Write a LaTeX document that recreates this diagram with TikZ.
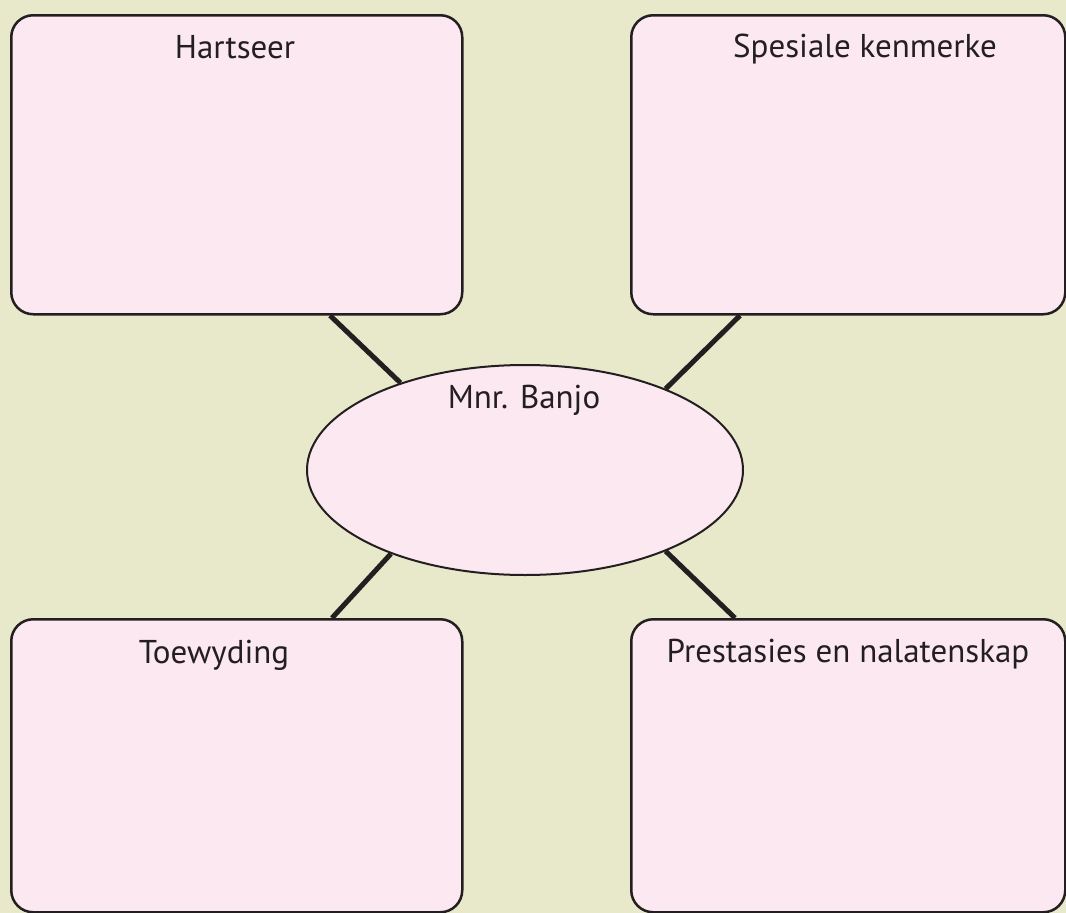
\documentclass[tikz,border=0pt]{standalone}
\usepackage{fontspec}
\setmainfont{PT Sans}
\usepackage{tikz}
\usepackage{xcolor}
\usetikzlibrary{
  positioning, calc, shapes.geometric, backgrounds,
}
\definecolor{cPaper}   {HTML}{E7E9CA}
\definecolor{cPink}    {HTML}{FCE8F1}
\definecolor{cInk}     {HTML}{231F20}

\tikzset{
  topicbox/.style={draw=cInk, fill=cPink, line width=2.5pt, rounded corners=22pt,
    rectangle, inner sep=0pt},
  hubnode/.style={draw=cInk, fill=cPink, line width=2pt, ellipse, inner sep=0pt,
    minimum width=436pt, minimum height=210pt},
  topictext/.style={anchor=base, text=cInk, font=\fontsize{33}{38}\selectfont},
  spoke/.style={draw=cInk, line width=5pt},
}

\begin{document}
\begin{tikzpicture}[x=1pt, y=-1pt]
        \useasboundingbox (0,0) rectangle (1066,913);
        % four topic boxes round the hub
        \node[topicbox, minimum width=451pt, minimum height=299pt, anchor=north west] (hart)  at (10,14)  {};
        \node[topicbox, minimum width=434pt, minimum height=299pt, anchor=north west] (spes)  at (630,14) {};
        \node[topicbox, minimum width=451pt, minimum height=293pt, anchor=north west] (toew)  at (10,618) {};
        \node[topicbox, minimum width=434pt, minimum height=293pt, anchor=north west] (prest) at (630,618) {};
        \node[hubnode] (banjo) at (525,470) {};
        \begin{scope}[on background layer]
          \fill[cPaper] (0,0) rectangle (1066,913);
          \draw[spoke] ($(hart.south west)+(320,0)$)  -- (banjo.145);
          \draw[spoke] ($(spes.south west)+(110,0)$)  -- (banjo.30);
          \draw[spoke] ($(toew.north west)+(322,0)$)  -- (banjo.212);
          \draw[spoke] ($(prest.north west)+(105,0)$) -- (banjo.-30);
        \end{scope}
        \node[topictext] (hartT)  at (235,58)  {Hartseer};
        \node[topictext] (spesT)  at (865,57)  {Spesiale kenmerke};
        \node[topictext] (toewT)  at (214,663) {Toewyding};
        \node[topictext] (prestT) at (848,662) {Prestasies en nalatenskap};
        \node[topictext] (banjoT) at (524,408) {Mnr. Banjo};
\end{tikzpicture}
\end{document}
